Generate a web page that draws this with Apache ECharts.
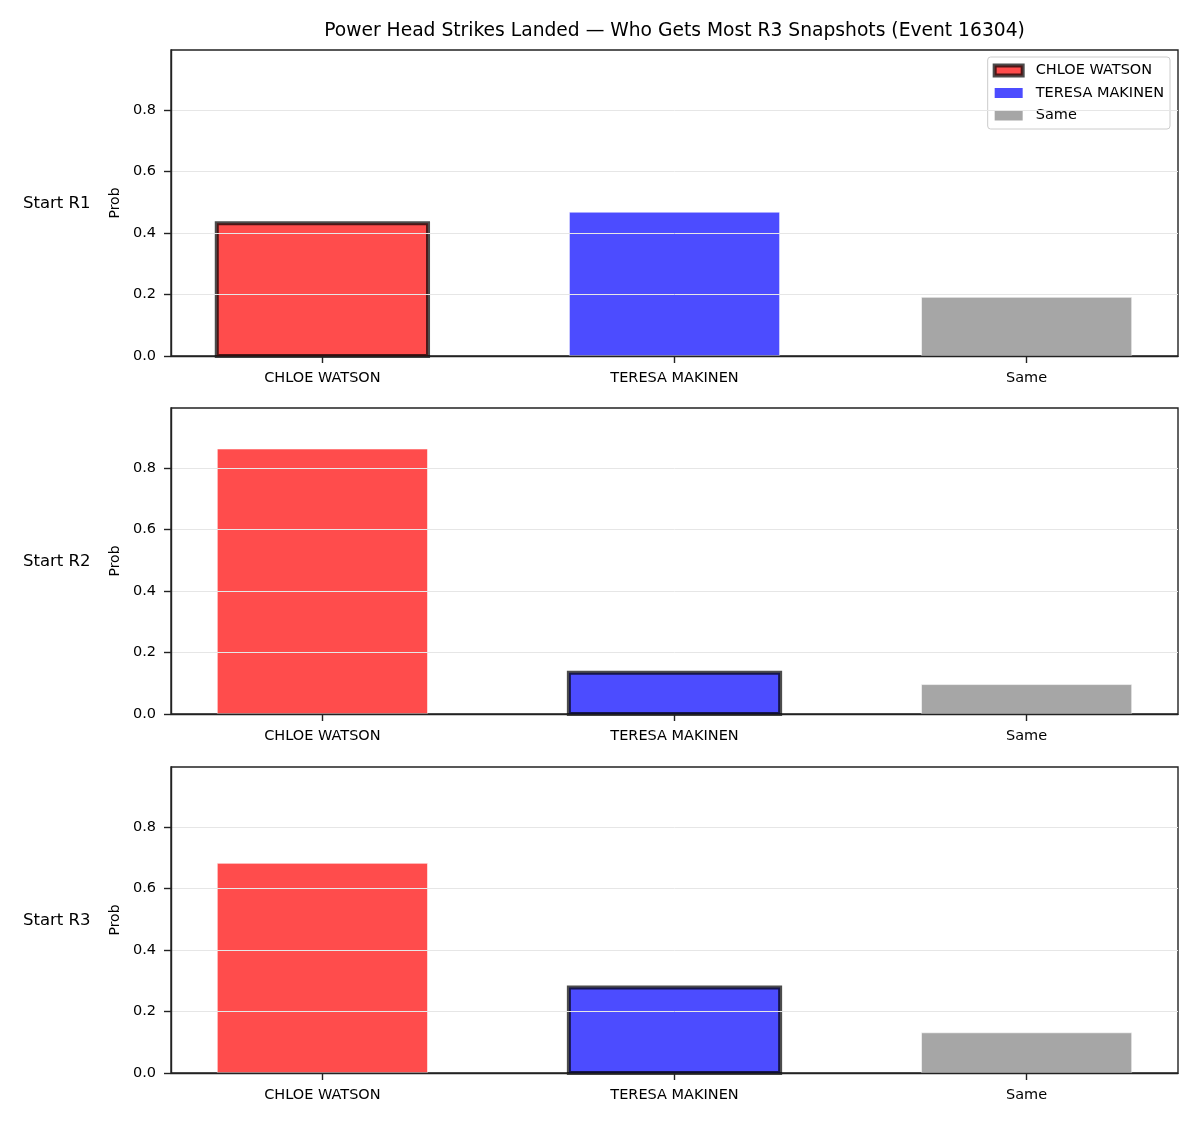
<!DOCTYPE html>
<html><head><meta charset="utf-8">
<script src="https://cdn.jsdelivr.net/npm/echarts@6/dist/echarts.min.js"></script>
<style>html,body{margin:0;padding:0;background:#fff}#chart{width:1200px;height:1125px}</style>
</head><body><div id="chart"></div>
<script>
const titleText = 'Power Head Strikes Landed — Who Gets Most R3 Snapshots (Event 16304)';
const categories = ['CHLOE WATSON', 'TERESA MAKINEN', 'Same'];
const rowLabels = ['Start R1', 'Start R2', 'Start R3'];
const valuesR1 = [0.432, 0.469, 0.192];
const valuesR2 = [0.863, 0.134, 0.097];
const valuesR3 = [0.683, 0.278, 0.132];
const highlighted = ['CHLOE WATSON', 'TERESA MAKINEN', 'TERESA MAKINEN'];
const yTicks = [0, 0.2, 0.4, 0.6, 0.8];
const yMax = 0.995;
const yLabel = 'Prob';

const rows = [valuesR1, valuesR2, valuesR3];
const fills = ['rgba(255,0,0,0.7)', 'rgba(0,0,255,0.7)', 'rgba(128,128,128,0.7)'];
const FONT = 'DejaVu Sans';
const gridTops = [50, 408, 767];
const gridH = 306;
const AX = '#222';
const BAR_HALF = 0.3;

const grids = [], xAxes = [], yAxes = [], series = [], graphics = [];
rows.forEach((vals, r) => {
  grids.push({left: 171, right: 22, top: gridTops[r], height: gridH, show: true,
    borderColor: AX, borderWidth: 1.4, backgroundColor: 'transparent'});
  xAxes.push({type: 'value', gridIndex: r, min: -0.43, max: 2.43, z: 10,
    axisLine: {show: true, onZero: false, lineStyle: {color: AX, width: 1.4}},
    axisTick: {show: true, length: 7, customValues: [0, 1, 2], lineStyle: {color: AX, width: 1.4}},
    axisLabel: {customValues: [0, 1, 2], margin: 15, color: '#000', fontFamily: FONT, fontSize: 14.5,
      formatter: v => categories[Math.round(v)] || ''},
    splitLine: {show: false}});
  yAxes.push({type: 'value', gridIndex: r, min: 0, max: yMax, z: 10,
    name: yLabel, nameLocation: 'middle', nameGap: 47,
    nameTextStyle: {color: '#000', fontFamily: FONT, fontSize: 14},
    axisLine: {show: true, onZero: false, lineStyle: {color: AX, width: 1.4}},
    axisTick: {show: true, length: 7, customValues: yTicks, lineStyle: {color: AX, width: 1.4}},
    axisLabel: {customValues: yTicks, margin: 15, color: '#000', fontFamily: FONT, fontSize: 14.5,
      formatter: v => v.toFixed(1)},
    splitLine: {show: true, lineStyle: {color: '#e6e6e6', width: 1}}});
  categories.forEach((c, i) => {
    const hi = highlighted[r] === c;
    series.push({type: 'bar', name: c, xAxisIndex: r, yAxisIndex: r, stack: 'row' + r,
      barWidth: 211, silent: true,
      data: [[i, vals[i]]],
      itemStyle: hi
        ? {color: fills[i], borderWidth: 0}
        : {color: fills[i], borderColor: 'rgba(255,255,255,0.7)', borderWidth: 0.8}});
  });
  const hIdx = categories.indexOf(highlighted[r]);
  series.push({type: 'custom', name: 'outline' + r, xAxisIndex: r, yAxisIndex: r, z: 5, silent: true,
    data: [[hIdx, vals[hIdx]]],
    renderItem: (params, api) => {
      const p0 = api.coord([api.value(0) - BAR_HALF, api.value(1)]);
      const p1 = api.coord([api.value(0) + BAR_HALF, 0]);
      return {type: 'rect',
        shape: {x: p0[0], y: p0[1], width: p1[0] - p0[0], height: p1[1] - p0[1]},
        style: {fill: 'none', stroke: 'rgba(0,0,0,0.7)', lineWidth: 4}};
    }});
  graphics.push({type: 'text', left: 23, top: gridTops[r] + gridH / 2 - 8,
    style: {text: rowLabels[r], fill: '#000', font: '16.5px "DejaVu Sans"', textVerticalAlign: 'top'}});
});
graphics.push({type: 'text', x: 674.5, y: 31,
  style: {text: titleText, fill: '#000', font: '18.7px "DejaVu Sans"', textAlign: 'center', textVerticalAlign: 'middle'}});

const legendData = categories.map((c, i) => ({
  name: c,
  itemStyle: c === highlighted[0]
    ? {color: fills[i], borderColor: 'rgba(0,0,0,0.7)', borderWidth: 4}
    : {color: fills[i], borderWidth: 0}
}));

const chart = echarts.init(document.getElementById('chart'), null, {renderer: 'canvas'});
chart.setOption({
  animation: false,
  backgroundColor: '#fff',
  grid: grids, xAxis: xAxes, yAxis: yAxes, series: series,
  legend: {data: legendData, orient: 'vertical', right: 30, top: 57, icon: 'rect',
    itemWidth: 28, itemHeight: 10, itemGap: 7.5, selectedMode: false,
    padding: [6, 6, 6, 5], backgroundColor: 'rgba(255,255,255,0.8)',
    borderColor: '#cccccc', borderWidth: 1, borderRadius: 3,
    textStyle: {color: '#000', fontFamily: FONT, fontSize: 14.5, padding: [0, 0, 0, 8]}},
  graphic: graphics
});
</script></body></html>
